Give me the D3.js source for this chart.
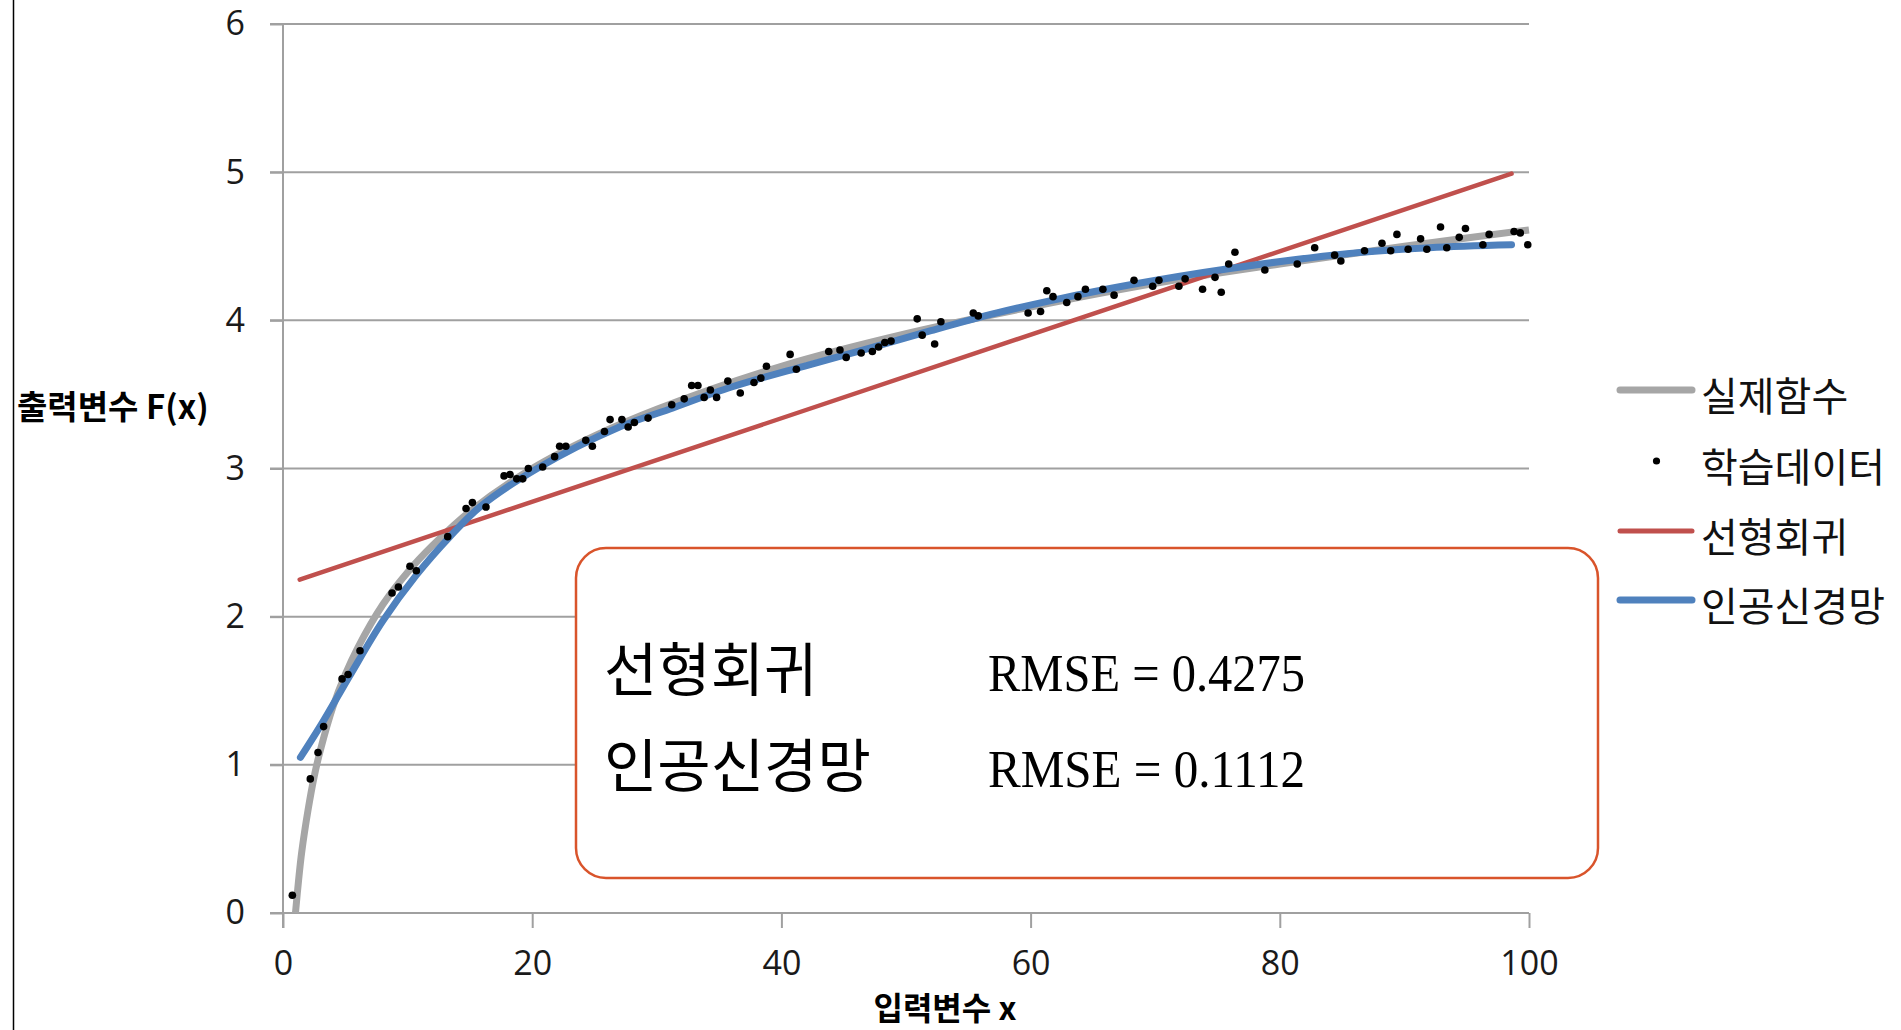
<!DOCTYPE html>
<html>
<head>
<meta charset="utf-8">
<script src="https://cdn.jsdelivr.net/npm/d3@7/dist/d3.min.js"></script>
<style>
  html, body { margin: 0; padding: 0; background: #fff; }
  svg { display: block; }
</style>
</head>
<body>
<svg id="chart" width="1901" height="1030"></svg>
<script>
// Training samples (x, F(x))
const sampleX = [0.75,2.19,2.81,3.26,4.74,5.22,6.18,8.75,9.26,10.19,10.7,13.22,14.69,15.2,16.29,17.74,18.22,18.76,19.24,19.69,20.84,21.8,22.2,22.7,24.3,24.83,25.8,26.25,27.2,27.7,28.2,29.3,31.2,32.2,32.8,33.3,33.8,34.3,34.8,35.7,36.7,37.8,38.35,38.8,40.7,41.2,43.8,44.7,45.2,46.4,47.3,47.8,48.3,48.8,50.9,51.3,52.3,52.8,55.4,55.8,59.8,60.8,61.3,61.8,62.9,63.8,64.4,65.8,66.7,68.3,69.8,70.3,71.9,72.4,73.8,74.8,75.3,75.9,76.4,78.8,81.4,82.8,84.4,84.9,86.8,88.2,88.9,89.4,90.3,91.3,91.8,92.9,93.4,94.4,94.9,96.3,96.8,98.8,99.3,99.9];
const sampleY = [0.12,0.905,1.083,1.258,1.58,1.61,1.77,2.16,2.2,2.34,2.31,2.54,2.73,2.77,2.74,2.95,2.96,2.93,2.93,3.0,3.01,3.08,3.15,3.15,3.19,3.15,3.25,3.33,3.33,3.28,3.31,3.34,3.43,3.47,3.56,3.56,3.48,3.53,3.48,3.59,3.51,3.58,3.61,3.69,3.77,3.67,3.79,3.8,3.75,3.78,3.79,3.82,3.85,3.86,4.01,3.9,3.84,3.99,4.05,4.03,4.05,4.06,4.2,4.16,4.12,4.16,4.21,4.21,4.17,4.27,4.23,4.27,4.23,4.28,4.21,4.29,4.19,4.38,4.46,4.34,4.38,4.49,4.44,4.4,4.47,4.52,4.47,4.58,4.48,4.55,4.48,4.63,4.49,4.56,4.62,4.51,4.58,4.6,4.59,4.51];

// Actual function curve
const trueX = [1,1.25,1.5,2,2.5,3,4,5,6,8,10,12,15,20,25,30,40,50,60,70,80,90,100];
const trueY = [0,0.22,0.41,0.69,0.92,1.1,1.39,1.61,1.79,2.08,2.3,2.48,2.71,3.0,3.22,3.4,3.69,3.91,4.09,4.25,4.38,4.5,4.61];

// Linear regression fit
const linX = [1.34, 98.6];
const linY = [2.25, 4.99];

// Neural network fit
const nnX = [1.4,3.2,5.35,8,10.7,13.4,15.8,20.4,27,31,36,41.8,46.6,52,57.3,62,68,76,85.4,92,98.6];
const nnY = [1.05,1.29,1.6,1.97,2.28,2.54,2.74,3.0,3.28,3.4,3.55,3.69,3.8,3.93,4.05,4.14,4.24,4.35,4.45,4.49,4.51];

const xTicks = [0, 20, 40, 60, 80, 100];
const yTicks = [0, 1, 2, 3, 4, 5, 6];

const seriesNames = ["실제함수", "학습데이터", "선형회귀", "인공신경망"];
const rmseLabels = ["선형회귀", "인공신경망"];
const rmseValues = ["0.4275", "0.1112"];

const svg = d3.select("#chart");
svg.append("rect").attr("width", 1901).attr("height", 1030).attr("fill", "#fff");

// page border on the left
svg.append("line").attr("x1", 13.5).attr("x2", 13.5).attr("y1", 0).attr("y2", 1030)
  .attr("stroke", "#000").attr("stroke-width", 1.5);

const x = d3.scaleLinear().domain([0, 100]).range([283, 1529]);
const y = d3.scaleLinear().domain([0, 6]).range([913, 24]);

const gridColor = "#a0a0a0";
const tickFont = "'Open Sans', 'Noto Sans', sans-serif";

// horizontal gridlines
svg.append("g").selectAll("line").data(yTicks).join("line")
  .attr("x1", 270).attr("x2", x(100))
  .attr("y1", d => y(d)).attr("y2", d => y(d))
  .attr("stroke", gridColor).attr("stroke-width", 2);

// y axis
const gy = svg.append("g").attr("transform", `translate(${x(0)},0)`)
  .call(d3.axisLeft(y).tickValues(yTicks).tickSize(13).tickSizeOuter(0).tickPadding(25).tickFormat(d3.format("d")));
gy.select(".domain").attr("stroke", gridColor).attr("stroke-width", 2)
  .attr("d", `M0,${y(6)}V${y(0) + 15}`);
gy.selectAll(".tick line").attr("stroke", gridColor).attr("stroke-width", 2);
gy.selectAll(".tick text").attr("font-family", tickFont).attr("font-size", 34).attr("fill", "#1a1a1a");

// x axis
const gx = svg.append("g").attr("transform", `translate(0,${y(0)})`)
  .call(d3.axisBottom(x).tickValues(xTicks).tickSize(15).tickSizeOuter(0).tickPadding(23).tickFormat(d3.format("d")));
gx.select(".domain").remove();
gx.selectAll(".tick line").attr("stroke", gridColor).attr("stroke-width", 2);
gx.selectAll(".tick text").attr("font-family", tickFont).attr("font-size", 34).attr("fill", "#1a1a1a");

// axis titles
const titleFont = "'Noto Sans CJK KR', 'Noto Sans', sans-serif";
svg.append("text").attr("x", 17).attr("y", 405).attr("dominant-baseline", "central")
  .attr("font-family", titleFont).attr("font-weight", "bold").attr("font-size", 33)
  .text("출력변수 F(x)");
svg.append("text").attr("x", 945).attr("y", 1006).attr("dominant-baseline", "central")
  .attr("text-anchor", "middle")
  .attr("font-family", titleFont).attr("font-weight", "bold").attr("font-size", 32)
  .text("입력변수 x");

const colors = { trueFn: "#a6a6a6", lin: "#c0504d", nn: "#4f81bd", dot: "#000" };

const zip = (xs, ys) => xs.map((v, i) => [v, ys[i]]);
const smooth = d3.line().x(d => x(d[0])).y(d => y(d[1])).curve(d3.curveCatmullRom.alpha(0.5));
const straight = d3.line().x(d => x(d[0])).y(d => y(d[1]));

svg.append("path").datum(zip(trueX, trueY)).attr("d", smooth)
  .attr("fill", "none").attr("stroke", colors.trueFn).attr("stroke-width", 7);
svg.append("path").datum(zip(linX, linY)).attr("d", straight)
  .attr("fill", "none").attr("stroke", colors.lin).attr("stroke-width", 4.5).attr("stroke-linecap", "round");
svg.append("path").datum(zip(nnX, nnY)).attr("d", smooth)
  .attr("fill", "none").attr("stroke", colors.nn).attr("stroke-width", 7).attr("stroke-linecap", "round");

svg.append("g").selectAll("circle").data(zip(sampleX, sampleY)).join("circle")
  .attr("cx", d => x(d[0])).attr("cy", d => y(d[1])).attr("r", 3.8).attr("fill", colors.dot);

// legend
const legendY = [390, 461, 531, 600];
const lg = svg.append("g");
const legendStyles = [
  { type: "line", color: colors.trueFn, w: 7 },
  { type: "dot" },
  { type: "line", color: colors.lin, w: 5 },
  { type: "line", color: colors.nn, w: 7 }
];
seriesNames.forEach((name, i) => {
  const s = legendStyles[i];
  if (s.type === "line") {
    lg.append("line").attr("x1", 1620).attr("x2", 1692).attr("y1", legendY[i]).attr("y2", legendY[i])
      .attr("stroke", s.color).attr("stroke-width", s.w).attr("stroke-linecap", "round");
  } else {
    lg.append("circle").attr("cx", 1656.5).attr("cy", legendY[i]).attr("r", 3.6).attr("fill", colors.dot);
  }
  lg.append("text").attr("x", 1701).attr("y", legendY[i] + 4).attr("dominant-baseline", "central")
    .attr("font-family", titleFont).attr("font-size", 40).attr("fill", "#111").text(name);
});

// RMSE comparison box
svg.append("rect").attr("x", 576).attr("y", 548).attr("width", 1022).attr("height", 330)
  .attr("rx", 30).attr("ry", 30).attr("fill", "#fff")
  .attr("stroke", "#d9542b").attr("stroke-width", 2.5);
const rowY = [691, 787];
rmseLabels.forEach((lab, i) => {
  svg.append("text").attr("x", 604).attr("y", rowY[i])
    .attr("font-family", titleFont).attr("font-size", 58).attr("fill", "#000").text(lab);
  svg.append("text").attr("x", 988).attr("y", rowY[i])
    .attr("font-family", "'Liberation Serif', 'DejaVu Serif', serif").attr("font-size", 53)
    .attr("textLength", 317).attr("lengthAdjust", "spacingAndGlyphs")
    .attr("fill", "#000").text(`RMSE = ${rmseValues[i]}`);
});
</script>
</body>
</html>
